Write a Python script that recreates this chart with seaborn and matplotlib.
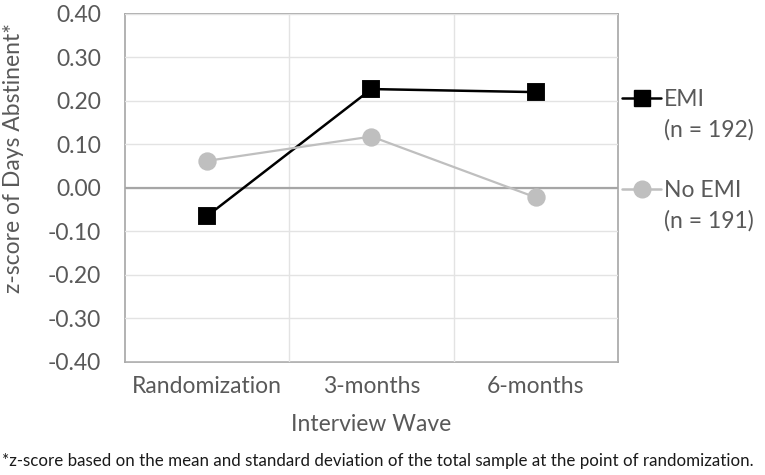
import numpy as np
import pandas as pd
import matplotlib
matplotlib.use('Agg')
import matplotlib.pyplot as plt
import seaborn as sns
from matplotlib.lines import Line2D

waves = ['Randomization', '3-months', '6-months']
emi_vals = [-0.065, 0.227, 0.220]
no_emi_vals = [0.062, 0.118, -0.022]
groups = ['EMI', 'No EMI']
group_n = {'EMI': 192, 'No EMI': 191}
yticks = [-0.40, -0.30, -0.20, -0.10, 0.00, 0.10, 0.20, 0.30, 0.40]

df = pd.DataFrame({
    'wave': waves * 2,
    'z': emi_vals + no_emi_vals,
    'group': ['EMI'] * 3 + ['No EMI'] * 3,
})

sns.set_style("white")
plt.rcParams['font.family'] = ['Lato', 'DejaVu Sans']

text_gray = '#595959'
colors = {'EMI': '#000000', 'No EMI': '#BFBFBF'}
markers = {'EMI': 's', 'No EMI': 'o'}
fs = 16.5

fig = plt.figure(figsize=(7.65, 4.75), dpi=100)
ax = fig.add_axes([0.163, 0.238, 0.645, 0.733])

# grid first so data sits on top
for y in yticks:
    ax.axhline(y, color='#E3E3E3', lw=1, zorder=0)
for xv in [0.5, 1.5]:
    ax.axvline(xv, color='#E3E3E3', lw=1, zorder=0)
ax.axhline(0, color='#A6A6A6', lw=1.6, zorder=1)

for g in groups:
    sub = df[df['group'] == g]
    sns.pointplot(data=sub, x='wave', y='z', order=waves, color=colors[g],
                  markers=markers[g], linestyles='-', ax=ax,
                  markersize=12, linewidth=1.8 if g == 'EMI' else 1.6,
                  errorbar=None)
for coll in ax.collections:
    coll.set_zorder(3)
for ln in ax.lines:
    ln.set_zorder(3)

ax.set_xlim(-0.5, 2.5)
ax.set_ylim(-0.40, 0.40)
ax.set_yticks(yticks)
ax.set_yticklabels([f'{v:.2f}' for v in yticks])
ax.tick_params(axis='both', length=0, labelsize=fs, colors=text_gray)
ax.tick_params(axis='y', pad=17)
ax.tick_params(axis='x', pad=10)
for s in ax.spines.values():
    s.set_color('#A6A6A6')
    s.set_linewidth(1.2)

ax.set_xlabel('Interview Wave', fontsize=fs, color=text_gray, labelpad=12)
ax.set_ylabel('z-score of Days Abstinent*', fontsize=fs, color=text_gray)
ax.yaxis.set_label_coords(-0.205, 0.585)

# legend: group name row, then n row, blank spacer between groups
handles, labels = [], []
blank = Line2D([], [], color='none')
for i, g in enumerate(groups):
    handles.append(Line2D([], [], color=colors[g], marker=markers[g],
                          markersize=12, lw=1.8))
    labels.append(g)
    handles.append(blank)
    labels.append(f'(n = {group_n[g]})')
    if i == 0:
        handles.append(blank)
        labels.append(' ')
leg = ax.legend(handles, labels, loc='upper left', bbox_to_anchor=(0.99, 0.81),
                frameon=False, fontsize=fs, handlelength=1.7,
                handletextpad=0.1, labelspacing=0.4, borderaxespad=0.0)
for t in leg.get_texts():
    t.set_color(text_gray)

fig.text(0.003, 0.018,
         '*z-score based on the mean and standard deviation of the total sample at the point of randomization.',
         fontsize=12.2, color='#1a1a1a')

fig.savefig('out.png', dpi=100)
